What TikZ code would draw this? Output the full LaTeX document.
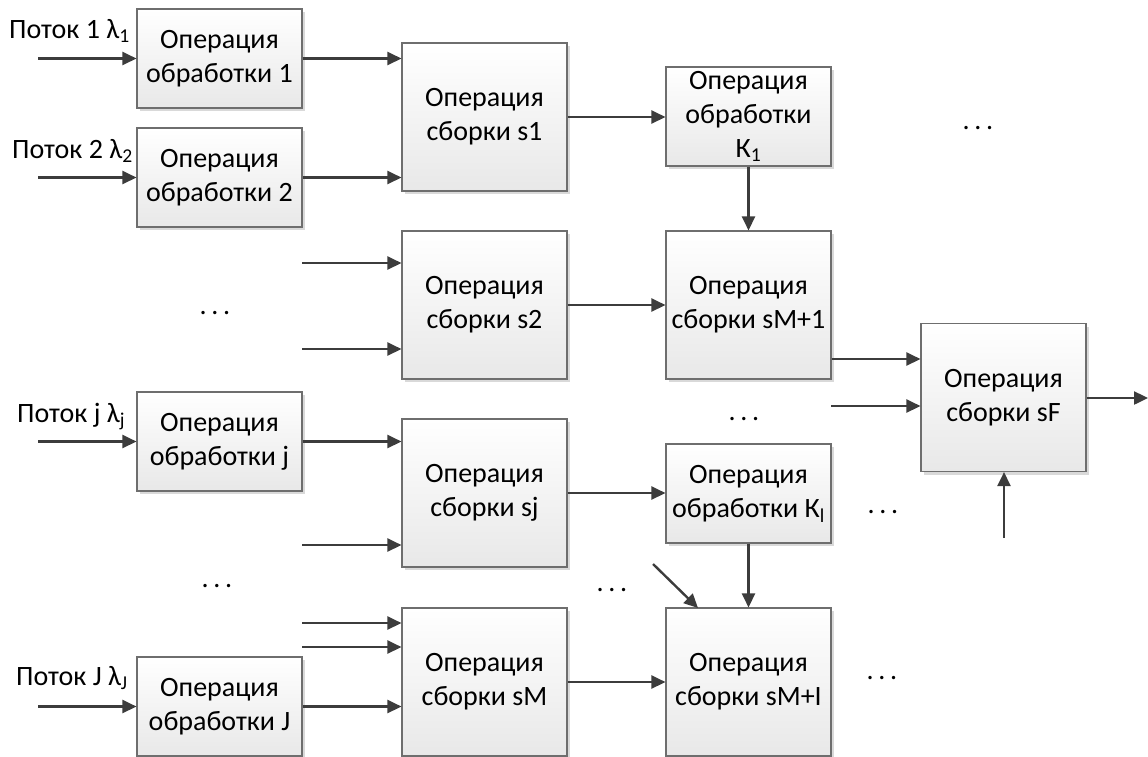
\documentclass[tikz,border=0pt]{standalone}
\usepackage{fontspec}
\setmainfont{Carlito}
\usetikzlibrary{arrows.meta,shadows,calc}
\definecolor{linegray}{HTML}{3C3C3C}
\definecolor{bordergray}{HTML}{6E6E6E}
\begin{document}
\begin{tikzpicture}[x=1pt,y=-1pt,
  font=\fontsize{28}{34}\selectfont,
  opbox/.style={draw=bordergray, line width=1.1pt, top color=white, bottom color=black!9,
    drop shadow={shadow xshift=3pt, shadow yshift=-3pt, fill=black!15, opacity=1},
    align=center, inner sep=0pt, minimum width=165pt},
  small/.style={opbox, minimum height=99pt},
  big/.style={opbox, minimum height=148pt},
  arr/.style={draw=linegray, line width=2.4pt, -{Triangle[length=14pt,width=13pt]}},
  lbl/.style={anchor=base west, inner sep=0pt},
  dots/.style={anchor=base, inner sep=0pt}]
\useasboundingbox (0,0) rectangle (1148,756);

% processing boxes
\node[small] (p1) at (219.5,58.5) {Операция\\обработки 1};
\node[small] (p2) at (219.5,177.5) {Операция\\обработки 2};
\node[small] (pj) at (219.5,441.5) {Операция\\обработки j};
\node[small] (pJ) at (219.5,706.5) {Операция\\обработки J};

% assembly boxes
\node[big] (s1) at (484.5,117) {Операция\\сборки s1};
\node[big] (s2) at (484.5,305) {Операция\\сборки s2};
\node[big] (sj) at (484.5,493) {Операция\\сборки sj};
\node[big] (sM) at (484.5,682) {Операция\\сборки sM};

\node[small] (K1) at (748.5,116.5) {Операция\\обработки\\К\textsubscript{1}};
\node[big] (sM1) at (748.5,305) {Операция\\сборки sM+1};
\node[small] (Kl) at (748.5,493.5) {Операция\\обработки К\textsubscript{l}};
\node[big] (sMI) at (748.5,682) {Операция\\сборки sM+I};

\node[big] (sF) at (1003.5,397.5) {Операция\\сборки sF};

% labels
\node[lbl] (l1) at (9,38) {Поток 1 λ\textsubscript{1}};
\node[lbl] (l2) at (12,158) {Поток 2 λ\textsubscript{2}};
\node[lbl] (lj) at (17,422) {Поток j λ\textsubscript{j}};
\node[lbl] (lJ) at (16,685) {Поток J λ\textsubscript{J}};

% dots
\node[dots] (d1) at (978,129) {.\,.\,.};
\node[dots] (d2) at (215,314) {.\,.\,.};
\node[dots] (d3) at (744,420) {.\,.\,.};
\node[dots] (d4) at (883,513) {.\,.\,.};
\node[dots] (d5) at (217,587) {.\,.\,.};
\node[dots] (d6) at (612,591) {.\,.\,.};
\node[dots] (d7) at (882,679) {.\,.\,.};

% free ends
\coordinate (i1) at (38,58.5);
\coordinate (i2) at (38,177.5);
\coordinate (ij) at (38,441.5);
\coordinate (iJ) at (38,706.5);
\coordinate (a2a) at (302,263);
\coordinate (a2b) at (302,349);
\coordinate (ajb) at (302,545);
\coordinate (ama) at (302,623);
\coordinate (amb) at (302,647);
\coordinate (mo) at (831,359);
\coordinate (fa) at (831,406);
\coordinate (fo) at (1148,398);
\coordinate (fb) at (1004,538);
\coordinate (dg) at (653,564);
\coordinate (dgt) at (698,608);

% connectors
\draw[arr] (i1) -- (p1.west);
\draw[arr] (i2) -- (p2.west);
\draw[arr] (ij) -- (pj.west);
\draw[arr] (iJ) -- (pJ.west);

\draw[arr] (p1.east) -- (p1.east -| s1.west);
\draw[arr] (p2.east) -- (p2.east -| s1.west);
\draw[arr] (a2a) -- (a2a -| s2.west);
\draw[arr] (a2b) -- (a2b -| s2.west);
\draw[arr] (pj.east) -- (pj.east -| sj.west);
\draw[arr] (ajb) -- (ajb -| sj.west);
\draw[arr] (ama) -- (ama -| sM.west);
\draw[arr] (amb) -- (amb -| sM.west);
\draw[arr] (pJ.east) -- (pJ.east -| sM.west);

\draw[arr] (s1.east) -- (s1.east -| K1.west);
\draw[arr] (K1.south) -- (sM1.north);
\draw[arr] (s2.east) -- (s2.east -| sM1.west);
\draw[arr] (sj.east) -- (sj.east -| Kl.west);
\draw[arr] (Kl.south) -- (sMI.north);
\draw[arr] (sM.east) -- (sM.east -| sMI.west);
\draw[arr] (dg) -- (dgt);

\draw[arr] (mo -| sM1.east) -- (mo -| sF.west);
\draw[arr] (fa) -- (fa -| sF.west);
\draw[arr] (fb) -- (fb |- sF.south);
\draw[arr] (fo -| sF.east) -- (fo);
\end{tikzpicture}
\end{document}
